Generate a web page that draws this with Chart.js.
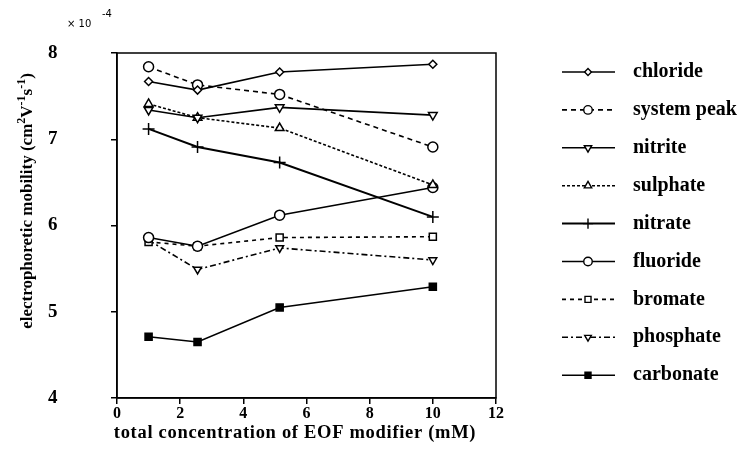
<!DOCTYPE html>
<html>
<head>
<meta charset="utf-8">
<style>
  html, body { margin: 0; padding: 0; background: #fff; }
  #wrap { width: 743px; height: 455px; }
</style>
</head>
<body>
<div id="wrap"><canvas id="mobChart" width="743" height="455"></canvas></div>

<script src="https://cdn.jsdelivr.net/npm/chart.js@4.4.0/dist/chart.umd.min.js"></script>
<script>
// data (mobility in units of 1e-4 cm2/Vs)
const conc = [1, 2.55, 5.15, 10];
const chloride   = [7.67, 7.57, 7.78, 7.87];
const systemPeak = [7.84, 7.63, 7.52, 6.91];
const nitrite    = [7.34, 7.25, 7.37, 7.28];
const sulphate   = [7.41, 7.25, 7.13, 6.47];
const nitrate    = [7.12, 6.91, 6.73, 6.10];
const fluoride   = [5.86, 5.76, 6.12, 6.44];
const bromate    = [5.81, 5.76, 5.86, 5.87];
const phosphate  = [5.83, 5.49, 5.74, 5.60];
const carbonate  = [4.71, 4.65, 5.05, 5.29];
const xTicks = [0, 2, 4, 6, 8, 10, 12];
const yTicks = [4, 5, 6, 7, 8];

const FONT = '"Liberation Serif", "Times New Roman", serif';

function pts(vals) {
    return vals.map(function (v, i) { return { x: conc[i], y: v }; });
}

function series(label, vals, style, dash, rot, fill, radius, width) {
    return {
        label: label,
        data: pts(vals),
        borderColor: '#000',
        backgroundColor: fill,
        borderWidth: width || 1.6,
        borderDash: dash,
        pointStyle: style,
        rotation: rot,
        pointRadius: radius || 4.5,
        pointBorderWidth: 1.5,
        pointBackgroundColor: fill,
        pointBorderColor: '#000',
        tension: 0,
        fill: false
    };
}

const datasets = [
    series('chloride', chloride, 'rectRot', [], 0, '#fff', 4),
    series('system peak', systemPeak, 'circle', [5, 4], 0, '#fff', 5),
    series('nitrite', nitrite, 'triangle', [], 180, '#fff', 5),
    series('sulphate', sulphate, 'triangle', [3, 2], 0, '#fff', 5),
    series('nitrate', nitrate, 'cross', [], 0, '#fff', 6, 2),
    series('fluoride', fluoride, 'circle', [], 0, '#fff', 5),
    series('bromate', bromate, 'rect', [4, 4], 0, '#fff', 5),
    series('phosphate', phosphate, 'triangle', [6, 3, 2, 3], 180, '#fff', 4.5),
    series('carbonate', carbonate, 'rect', [], 0, '#000', 5)
];

// y title pieces: [text, superscript?]
const yTitle = [['electrophoretic mobility (cm', false], ['2', true], ['V', false], ['-1', true],
                ['s', false], ['-1', true], [')', false]];
const xTitle = 'total concentration of EOF modifier (mM)';

// frame, axis titles, exponent note and the legend on the right
const extras = {
    id: 'extras',
    afterDraw: function (chart) {
        const ctx = chart.ctx;
        const a = chart.chartArea;
        ctx.save();
        ctx.strokeStyle = '#000';
        ctx.lineWidth = 1.5;
        ctx.strokeRect(a.left, a.top, a.right - a.left, a.bottom - a.top);

        ctx.fillStyle = '#000';
        ctx.font = '10px "DejaVu Sans", sans-serif';
        ctx.textBaseline = 'alphabetic';
        ctx.fillText('\u00d7 10', 67, 27);
        ctx.fillText('-4', 102, 17);

        // x title
        ctx.font = 'bold 18.5px ' + FONT;
        ctx.letterSpacing = '0.7px';
        ctx.textAlign = 'center';
        ctx.fillText(xTitle, 295, 438);
        ctx.letterSpacing = '0px';
        ctx.textAlign = 'left';

        // rotated y title with superscripts
        const big = 'bold 17px ' + FONT, small = 'bold 12px ' + FONT;
        let total = 0;
        yTitle.forEach(function (p) { ctx.font = p[1] ? small : big; total += ctx.measureText(p[0]).width; });
        ctx.save();
        ctx.translate(32, 201);
        ctx.rotate(-Math.PI / 2);
        let cx = -total / 2;
        yTitle.forEach(function (p) {
            ctx.font = p[1] ? small : big;
            ctx.fillText(p[0], cx, p[1] ? -7 : 0);
            cx += ctx.measureText(p[0]).width;
        });
        ctx.restore();

        let y = 72;
        chart.data.datasets.forEach(function (ds) {
            ctx.beginPath();
            ctx.setLineDash(ds.borderDash);
            ctx.lineWidth = ds.borderWidth;
            ctx.strokeStyle = '#000';
            ctx.moveTo(562, y);
            ctx.lineTo(615, y);
            ctx.stroke();
            ctx.setLineDash([]);
            ctx.fillStyle = ds.pointBackgroundColor;
            ctx.lineWidth = 1.4;
            Chart.helpers.drawPoint(ctx, {
                pointStyle: ds.pointStyle,
                rotation: ds.rotation,
                radius: ds.pointRadius * 0.85,
                borderWidth: 1.4
            }, 588, y);
            ctx.fillStyle = '#000';
            ctx.font = 'bold 20px ' + FONT;
            ctx.textBaseline = 'middle';
            ctx.fillText(ds.label, 633, y);
            y += 37.9;
        });
        ctx.restore();
    }
};

const chart = new Chart(document.getElementById('mobChart').getContext('2d'), {
    type: 'line',
    data: { datasets: datasets },
    options: {
        responsive: false,
        animation: false,
        layout: { padding: { left: 48, top: 53, right: 247, bottom: 0 } },
        plugins: { legend: { display: false }, tooltip: { enabled: false } },
        scales: {
            x: {
                type: 'linear',
                min: 0, max: 12,
                afterBuildTicks: function (s) { s.ticks = xTicks.map(function (v) { return { value: v }; }); },
                afterFit: function (s) { s.height = 57; },
                grid: { drawOnChartArea: false, tickLength: 6, color: '#000', lineWidth: 1.5 },
                border: { color: '#000', width: 1.5 },
                ticks: { color: '#000', padding: 0, font: { family: FONT, size: 16, weight: 'bold' } }
            },
            y: {
                type: 'linear',
                min: 4, max: 8,
                afterBuildTicks: function (s) { s.ticks = yTicks.map(function (v) { return { value: v }; }); },
                afterFit: function (s) { s.width = 69; },
                grid: { drawOnChartArea: false, tickLength: 6, color: '#000', lineWidth: 1.5 },
                border: { color: '#000', width: 1.5 },
                ticks: { color: '#000', padding: 3, crossAlign: 'far', font: { family: FONT, size: 19, weight: 'bold' } }
            }
        }
    },
    plugins: [extras]
});
</script>
</body>
</html>
